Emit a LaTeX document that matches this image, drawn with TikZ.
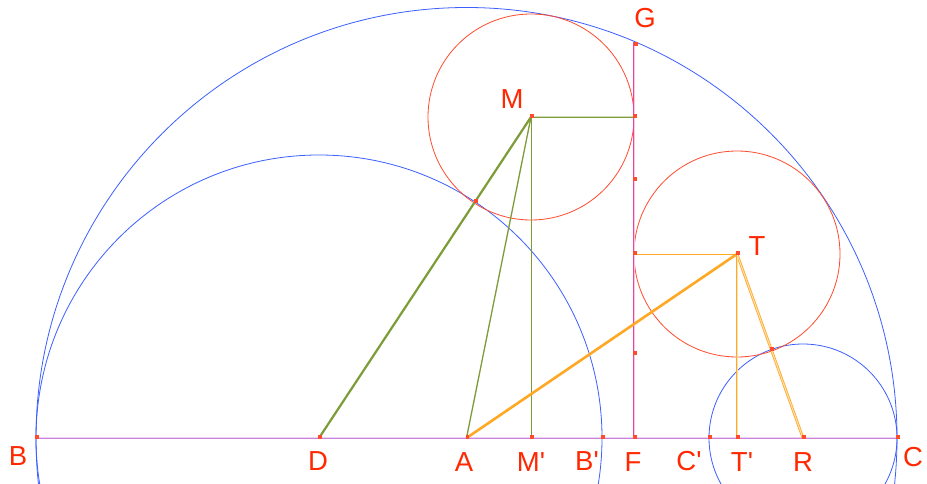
\documentclass[tikz,border=0pt]{standalone}
\usepackage{fontspec}
\setmainfont{Liberation Sans}[Ligatures=TeXOff]
\definecolor{cblue}{RGB}{60,95,255}
\definecolor{cred}{RGB}{255,75,45}
\definecolor{cgreen}{RGB}{125,155,55}
\definecolor{corange}{RGB}{255,168,35}
\definecolor{cpink}{RGB}{232,70,160}
\definecolor{cviolet}{RGB}{205,130,220}
\definecolor{clabel}{RGB}{255,40,0}
\begin{document}
\begin{tikzpicture}[x=1pt,y=-1pt,
  bluecirc/.style={draw=cblue,line width=0.8pt},
  redcirc/.style={draw=cred,line width=0.8pt},
  lbl/.style={text=clabel,font=\fontsize{27.5}{28}\selectfont,inner sep=0pt},
  dot/.style={fill=cred,minimum size=3.2pt,inner sep=0pt,draw=none,rectangle},
  gthick/.style={draw=cgreen,line width=2.2pt},
  gmid/.style={draw=cgreen,line width=1.3pt},
  gthin/.style={draw=cgreen,line width=1pt},
  othick/.style={draw=corange,line width=2.6pt},
  othin/.style={draw=corange,line width=1pt}]
\useasboundingbox (0,0) rectangle (927,484);
\fill[white] (0,0) rectangle (927,484);
\clip (0,0) rectangle (927,484);
% points
\coordinate (B) at (36,438);
\coordinate (D) at (319,438);
\coordinate (A) at (466.5,438);
\coordinate (Mp) at (531,438);
\coordinate (Bp) at (602,438);
\coordinate (F) at (634,438);
\coordinate (Cp) at (709,438);
\coordinate (Tp) at (737,438);
\coordinate (R) at (803,438);
\coordinate (C) at (897,438);
\coordinate (M) at (531,117);
\coordinate (T) at (737,254);
\coordinate (G) at (634,42);
\coordinate (FM) at (634,117);
\coordinate (FT) at (634,254);
\coordinate (F1) at (634,180);
\coordinate (F2) at (634,354);
\coordinate (P1) at (475,202);
\coordinate (P2) at (771,350);
% circles
\draw[bluecirc] (A) circle[radius=430.5pt];
\draw[bluecirc] (D) circle[radius=283pt];
\draw[bluecirc] (R) circle[radius=94pt];
\draw[redcirc] (M) circle[radius=103pt];
\draw[redcirc] (T) circle[radius=103pt];
% baseline
\draw[cviolet!35,line width=2.2pt] (B) -- (C);
\draw[cviolet,line width=0.7pt] ([yshift=-0.6pt]B) -- ([yshift=-0.6pt]C);
% vertical line F-G
\draw[cpink!30,line width=2.4pt] (F) -- (G);
\draw[cpink,line width=0.8pt] ([xshift=-0.7pt]F) -- ([xshift=-0.7pt]G);
% green segments
\draw[gthick] (D) -- (M);
\draw[gmid] (A) -- (M);
\draw[gthin] (M) -- (Mp);
\draw[cgreen!35,line width=2.2pt] (M) -- (FM);
\draw[cgreen,line width=0.8pt] ([yshift=-0.6pt]M) -- ([yshift=-0.6pt]FM);
% orange segments
\draw[othick] (A) -- (T);
\draw[corange,line width=2.6pt] (T) -- (R);
\draw[corange!35,line width=1pt] (T) -- (R);
\draw[corange!35,line width=2.4pt] (T) -- (Tp);
\draw[corange,line width=1pt] ([xshift=-0.6pt]T) -- ([xshift=-0.6pt]Tp);
\draw[othin] (T) -- (FT);
% markers
\foreach \p in {B,D,A,Mp,Bp,F,Cp,Tp,R,C,M,T,FM,FT,F1,F2,P1,P2}
  \node[dot] at ([xshift=1pt,yshift=1pt]\p) {};
\node[dot] at (636,44) {};
% labels
\node[lbl] (lB) at (18,456) {B};
\node[lbl] (lD) at (318,461) {D};
\node[lbl] (lA) at (464,462) {A};
\node[lbl] (lMp) at (531,462) {M'};
\node[lbl] (lBp) at (587,461) {B'};
\node[lbl] (lF) at (633,462) {F};
\node[lbl] (lCp) at (689,461) {C'};
\node[lbl] (lTp) at (742,462) {T'};
\node[lbl] (lR) at (803,462) {R};
\node[lbl] (lC) at (913,457) {C};
\node[lbl] (lG) at (645,18) {G};
\node[lbl] (lM) at (512,99) {M};
\node[lbl] (lT) at (757,246) {T};
\end{tikzpicture}
\end{document}
